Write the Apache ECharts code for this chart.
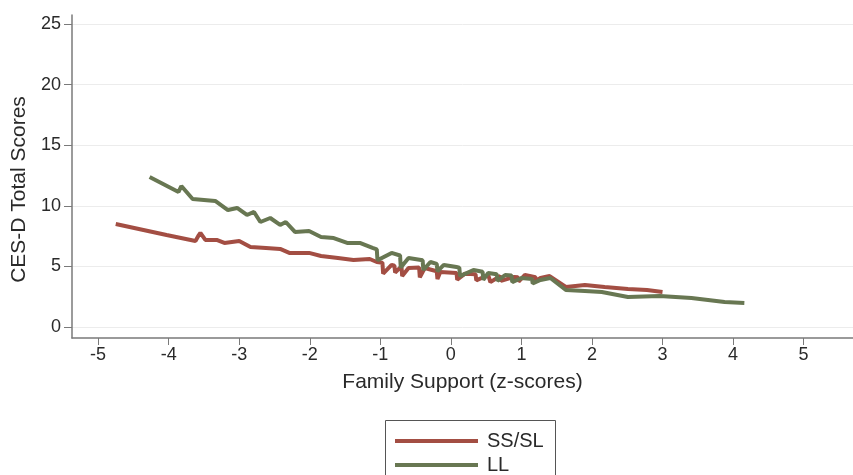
<!DOCTYPE html>
<html>
<head>
<meta charset="utf-8">
<script src="https://cdn.jsdelivr.net/npm/echarts@6/dist/echarts.min.js"></script>
<style>
html,body{margin:0;padding:0;background:#fff;}
#chart{width:853px;height:475px;}
</style>
</head>
<body>
<div id="chart"></div>
<script>
// Series names
var seriesNames = ['SS/SL', 'LL'];
// SS/SL (red) line
var redX = [-4.75, -4.03, -3.62, -3.58, -3.55, -3.48, -3.32, -3.21, -3.00, -2.84, -2.62, -2.42, -2.29, -2.01, -1.84, -1.60, -1.38, -1.15, -1.05, -0.97, -0.96, -0.84, -0.80, -0.79, -0.70, -0.69, -0.60, -0.45, -0.44, -0.37, -0.20, -0.19, -0.15, 0.08, 0.09, 0.20, 0.35, 0.36, 0.53, 0.55, 0.56, 0.70, 0.71, 0.90, 0.95, 0.96, 1.05, 1.20, 1.21, 1.27, 1.40, 1.63, 1.90, 2.18, 2.51, 2.78, 3.00];
var redY = [8.50, 7.59, 7.10, 7.51, 7.76, 7.18, 7.18, 6.93, 7.10, 6.60, 6.52, 6.44, 6.11, 6.11, 5.86, 5.69, 5.53, 5.61, 5.36, 5.30, 4.40, 5.12, 5.05, 4.50, 5.00, 4.20, 4.87, 4.90, 4.10, 4.87, 4.60, 3.95, 4.54, 4.46, 3.90, 4.40, 4.35, 3.85, 4.29, 4.25, 3.70, 4.20, 3.80, 4.13, 4.10, 3.75, 4.30, 4.10, 3.80, 4.04, 4.20, 3.30, 3.47, 3.30, 3.14, 3.05, 2.89];
// LL (green) line
var greenX = [-4.27, -3.86, -3.82, -3.66, -3.34, -3.16, -3.03, -2.89, -2.79, -2.70, -2.56, -2.42, -2.34, -2.21, -2.01, -1.84, -1.66, -1.47, -1.29, -1.11, -1.05, -1.04, -0.84, -0.72, -0.71, -0.60, -0.40, -0.39, -0.29, -0.20, -0.19, -0.10, 0.08, 0.12, 0.13, 0.32, 0.45, 0.46, 0.53, 0.65, 0.66, 0.77, 0.86, 0.87, 1.00, 1.15, 1.16, 1.27, 1.41, 1.63, 1.90, 2.14, 2.51, 2.96, 3.41, 3.88, 4.16];
var greenY = [12.38, 11.14, 11.63, 10.56, 10.40, 9.65, 9.82, 9.24, 9.49, 8.66, 8.99, 8.42, 8.66, 7.84, 7.92, 7.43, 7.34, 6.93, 6.93, 6.52, 6.40, 5.50, 6.11, 5.90, 4.90, 5.69, 5.50, 4.70, 5.36, 5.20, 4.60, 5.12, 4.95, 4.90, 4.20, 4.70, 4.55, 3.90, 4.46, 4.35, 3.80, 4.29, 4.25, 3.70, 4.04, 3.95, 3.60, 3.88, 4.04, 3.05, 2.97, 2.89, 2.48, 2.56, 2.39, 2.06, 1.98];
// Tick labels
var xTicks = [-5, -4, -3, -2, -1, 0, 1, 2, 3, 4, 5];
var yTicks = [0, 5, 10, 15, 20, 25];

function pairs(xs, ys) { return xs.map(function (x, i) { return [x, ys[i]]; }); }

var textColor = '#2a2a2a';
var axisColor = '#7a7a7a';
var font = 'Liberation Sans, Arial, sans-serif';
var legendText = {fontSize: 20, color: textColor, fontFamily: font, padding: [0, 0, 0, 4]};

var chart = echarts.init(document.getElementById('chart'), null, {renderer: 'canvas'});
chart.setOption({
  animation: false,
  backgroundColor: '#fff',
  textStyle: {fontFamily: font},
  grid: {left: 72, right: 0, top: 15, bottom: 137, containLabel: false},
  graphic: [{
    type: 'rect', left: 385, top: 420,
    shape: {width: 170, height: 70},
    style: {fill: '#fff', stroke: '#555', lineWidth: 1}, z: 0
  }],
  legend: [
    {left: 395, top: 431, data: [seriesNames[0]], icon: 'rect', itemWidth: 83, itemHeight: 4,
     padding: 0, textStyle: legendText, z: 5},
    {left: 395, top: 455, data: [seriesNames[1]], icon: 'rect', itemWidth: 83, itemHeight: 4,
     padding: 0, textStyle: legendText, z: 5}
  ],
  xAxis: {
    type: 'value',
    min: -5.37, max: 5.7,
    name: 'Family Support (z-scores)',
    nameLocation: 'middle', nameGap: 34,
    nameTextStyle: {fontSize: 21, color: textColor},
    axisLine: {show: true, onZero: false, lineStyle: {color: axisColor, width: 1.5}},
    axisTick: {show: true, length: 7, lineStyle: {color: axisColor}, customValues: xTicks},
    axisLabel: {fontSize: 18, color: textColor, margin: 8, customValues: xTicks},
    splitLine: {show: false}
  },
  yAxis: {
    type: 'value',
    min: -0.91, max: 25.74,
    name: 'CES-D Total Scores',
    nameLocation: 'middle', nameGap: 41,
    nameTextStyle: {fontSize: 21, color: textColor, padding: [0, 26, 0, 0]},
    axisLine: {show: true, onZero: false, lineStyle: {color: axisColor, width: 1.5}},
    axisTick: {show: true, length: 8, lineStyle: {color: axisColor}, customValues: yTicks},
    axisLabel: {fontSize: 18, color: textColor, margin: 11, customValues: yTicks},
    splitLine: {show: true, lineStyle: {color: '#ececec', width: 1}}
  },
  series: [
    {name: seriesNames[0], type: 'line', data: pairs(redX, redY), showSymbol: false,
     lineStyle: {color: '#a34e43', width: 4}, itemStyle: {color: '#a34e43'}, z: 2},
    {name: seriesNames[1], type: 'line', data: pairs(greenX, greenY), showSymbol: false,
     lineStyle: {color: '#687752', width: 4}, itemStyle: {color: '#687752'}, z: 3}
  ]
});
</script>
</body>
</html>
